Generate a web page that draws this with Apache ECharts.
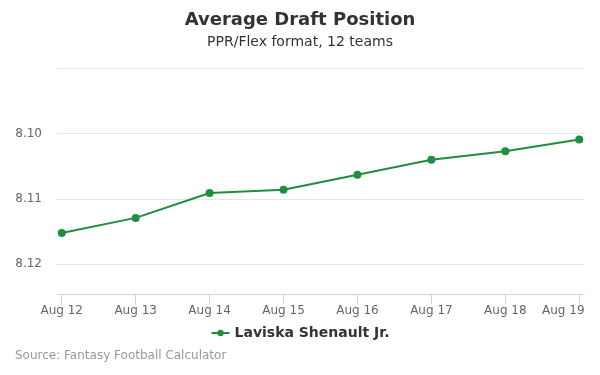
<!DOCTYPE html>
<html>
<head>
<meta charset="utf-8">
<script src="https://cdn.jsdelivr.net/npm/echarts@6/dist/echarts.min.js"></script>
<style>
html,body{margin:0;padding:0;background:#fff;}
#chart{width:600px;height:375px;}
</style>
</head>
<body>
<div id="chart"></div>
<script>
const categories = ['Aug 12','Aug 13','Aug 14','Aug 15','Aug 16','Aug 17','Aug 18','Aug 19'];
const seriesName = 'Laviska Shenault Jr.';
const adpValues = [8.1152, 8.1129, 8.1091, 8.1086, 8.1063, 8.1040, 8.1027, 8.1009];
const yTickLabels = ['8.10','8.11','8.12'];

const FONT = 'DejaVu Sans';
const catIdx = categories.map((c,i)=>i);
const seriesData = adpValues.map((v,i)=>[i,v]);
const lastIdx = categories.length-1;

const chart = echarts.init(document.getElementById('chart'), null, {renderer:'canvas'});
chart.setOption({
  animation:false,
  backgroundColor:'#ffffff',
  title:{
    text:'Average Draft Position',
    subtext:'PPR/Flex format, 12 teams',
    left:'center', top:6, itemGap:6,
    textStyle:{fontFamily:FONT,fontSize:18,fontWeight:'bold',color:'#333333'},
    subtextStyle:{fontFamily:FONT,fontSize:14,color:'#333333'}
  },
  graphic:[{
    type:'text', left:15, top:350,
    style:{text:'Source: Fantasy Football Calculator',fontFamily:FONT,fontSize:12,fill:'#999999'}
  }],
  legend:{
    data:[seriesName], bottom:30, left:'center',
    itemWidth:18, itemHeight:8, itemGap:6,
    textStyle:{fontFamily:FONT,fontSize:14,fontWeight:'bold',color:'#333333'}
  },
  grid:{left:57,right:15.7,top:68.3,bottom:80.7,containLabel:false},
  xAxis:{
    type:'value', min:-0.064, max:7.068,
    axisLine:{onZero:false,lineStyle:{color:'#ccd6eb'}},
    axisTick:{show:true,length:10,customValues:catIdx,lineStyle:{color:'#ccd6eb'}},
    axisLabel:{fontFamily:FONT,fontSize:12,color:'#666666',margin:11,customValues:catIdx,
      showMinLabel:true, showMaxLabel:true,
      formatter:function(v){const i=Math.round(v);const t=categories[i]||'';return i===lastIdx?'{last|'+t+'}':t;},
      rich:{last:{fontFamily:FONT,fontSize:12,color:'#666666',padding:[0,32,0,0]}}
    },
    splitLine:{show:false}
  },
  yAxis:{
    type:'value', inverse:true, min:8.09, max:8.1246, interval:0.01,
    axisLine:{show:false}, axisTick:{show:false},
    axisLabel:{fontFamily:FONT,fontSize:12,color:'#666666',margin:15,padding:[6,0,0,0],
      formatter:function(v){const s=v.toFixed(2);return (yTickLabels.indexOf(s)>=0 && Math.abs(v-Number(s))<1e-6)?s:'';}},
    splitLine:{lineStyle:{color:'#e6e6e6'}}
  },
  series:[{
    name:seriesName, type:'line', data:seriesData,
    color:'#1e8f3c',
    lineStyle:{width:2,color:'#1e8f3c'},
    itemStyle:{color:'#1e8f3c'},
    symbol:'circle', symbolSize:8, showSymbol:true
  }]
});
</script>
</body>
</html>
